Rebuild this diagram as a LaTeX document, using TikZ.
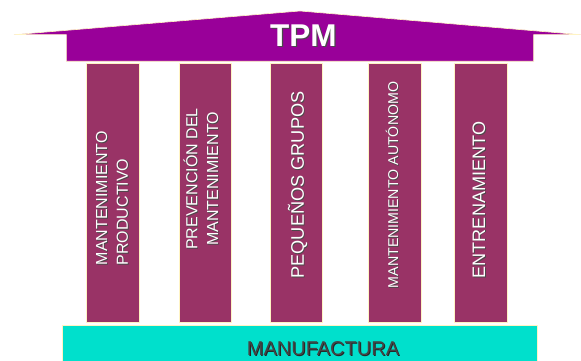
\documentclass[tikz,border=0pt]{standalone}
\usepackage{fontspec}
\setmainfont{Liberation Sans}
\usepackage{tikz}

\definecolor{roofpurple}{HTML}{990099}
\definecolor{pillarred}{HTML}{993366}
\definecolor{baseteal}{HTML}{00E0CC}
\definecolor{edgeyellow}{HTML}{FFF4C4}
\definecolor{shadowgray}{HTML}{4A4A4A}
\definecolor{basetext}{HTML}{444444}

\tikzset{
	roof/.style={draw=edgeyellow, line width=0.6pt, fill=roofpurple},
	pillar/.style={draw=edgeyellow, line width=0.6pt, fill=pillarred},
	floor/.style={draw=edgeyellow, line width=0.6pt, fill=baseteal},
	pillarlabel/.style={rotate=90, inner sep=0pt, text=white},
	labelshadow/.style={rotate=90, inner sep=0pt, text=shadowgray},
}

\begin{document}
\begin{tikzpicture}[x=1pt, y=-1pt]
			\useasboundingbox (0,0) rectangle (581,361);
			
			% Base
			\draw[floor] (62,325.3) rectangle (537.7,362);
			\node[inner sep=0pt, text=black!85, font=\fontsize{20}{24}\selectfont] (mfs) at (324,349.7) {MANUFACTURA};
			\node[inner sep=0pt, text=basetext, font=\fontsize{20}{24}\selectfont] (mf) at (323,348.7) {MANUFACTURA};
			
			% Roof
			\draw[roof] (14,34.7) -- (300,11) -- (580.7,34.7) -- (533.7,34.7)
				-- (533.7,61.3) -- (66.3,61.3) -- (66.3,34.7) -- cycle;
			\node[inner sep=0pt, text=shadowgray, font=\fontsize{31.5}{36}\selectfont\bfseries] (tpms) at (304.5,36.9) {TPM};
			\node[inner sep=0pt, text=white, font=\fontsize{31.5}{36}\selectfont\bfseries] (tpm) at (303.3,35.7) {TPM};
			
			% Pillars
			\foreach \n/\a/\b in {1/86.7/139.3, 2/179/231, 3/270.7/322.7, 4/368/421, 5/454/507.7} {
				\draw[pillar] (\a,63.3) rectangle (\b,322.7);
			}
			
			% Pillar labels (shadow first)
			\foreach \n/\x/\y/\s/\al/\txt in {
				1/112/198.3/16/left/{MANTENIMIENTO\\PRODUCTIVO},
				2/200.8/179/16/center/{PREVENCIÓN DEL\\MANTENIMIENTO},
				3/297.5/185/18.2/center/{PEQUEÑOS GRUPOS},
				4/392/185/14.2/center/{MANTENIMIENTO AUTÓNOMO},
				5/479/200/18.1/center/{ENTRENAMIENTO}} {
				\node[labelshadow, align=\al, font=\fontsize{\s}{20.7}\selectfont] (l\n s) at (\x+0.9,\y+0.9) {\txt};
				\node[pillarlabel, align=\al, font=\fontsize{\s}{20.7}\selectfont] (l\n) at (\x,\y) {\txt};
			}
		\end{tikzpicture}
\end{document}
